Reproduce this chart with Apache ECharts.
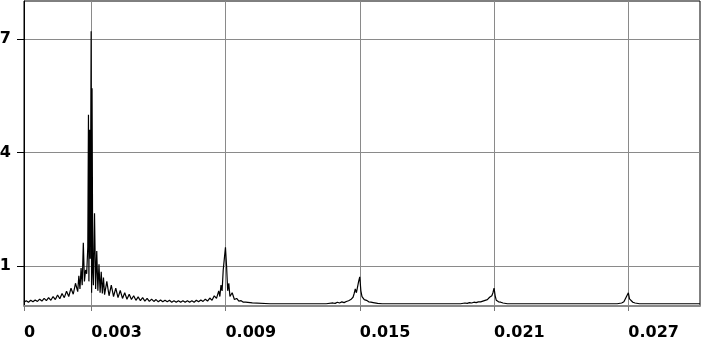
<!DOCTYPE html>
<html>
<head>
<meta charset="utf-8">
<script src="https://cdn.jsdelivr.net/npm/echarts@6/dist/echarts.min.js"></script>
<style>
html,body{margin:0;padding:0;background:#fff;}
#chart{width:702px;height:343px;}
</style>
</head>
<body>
<div id="chart"></div>
<script>
// X tick values and labels
var xTicks = [0, 0.003, 0.009, 0.015, 0.021, 0.027];
var xTickLabels = ['0', '0.003', '0.009', '0.015', '0.021', '0.027'];
// Y tick values and labels
var yTicks = [1, 4, 7];
var yTickLabels = ['1', '4', '7'];

// Spectrum: frequency positions
var freq = [
  0,0.0001,0.0002,0.0003,0.0004,0.0005,0.0006,0.0007,0.0008,0.0009,0.001,0.0011,0.0012,0.0013,0.0014,0.0015,0.0016,0.0017,0.0018,0.0019,0.002,0.0021,0.0022,0.0023,0.0024,
  0.00245,0.0025,0.00255,0.0026,0.00265,0.0027,0.00275,0.0028,0.00285,0.00288,0.0029,0.00293,0.00296,0.003,0.00302,0.00304,0.00307,0.0031,0.00315,0.0032,0.00325,0.0033,0.00335,0.0034,0.00345,0.0035,0.00355,0.0036,
  0.0037,0.0038,0.0039,0.004,0.0041,0.0042,0.0043,0.0044,0.0045,0.0046,
  0.0047,0.0048,0.0049,0.005,0.0051,0.0052,0.0053,0.0054,0.0055,0.0056,
  0.0057,0.0058,0.0059,0.006,0.0061,0.0062,0.0063,0.0064,0.0065,0.0066,
  0.0067,0.0068,0.0069,0.007,0.0071,0.0072,0.0073,0.0074,0.0075,0.0076,
  0.0077,0.0078,0.0079,0.008,0.0081,0.0082,0.0083,0.0084,0.0085,0.0086,
  0.0087,0.00875,0.0088,0.00885,0.0089,0.00895,0.009,0.00905,0.0091,0.00915,0.0092,0.0093,0.0094,0.0095,0.0096,0.0097,0.0098,0.0099,0.0102,0.011,0.012,0.013,0.0135,
  0.0138,0.0139,0.014,0.0141,0.0142,0.0143,0.0144,0.0145,0.0146,0.0147,0.01475,0.0148,0.01485,0.0149,0.01495,0.015,0.01505,0.0151,0.01515,0.0152,0.0153,0.0154,0.0155,0.0156,0.0158,0.016,0.018,0.0195,
  0.0197,0.0198,0.0199,0.02,0.0201,0.0202,0.0203,0.0204,0.0205,0.0206,0.0207,0.0208,0.0209,0.02095,0.021,0.02105,0.0211,0.02115,0.0212,0.0213,0.0214,0.0216,0.024,0.0265,
  0.0267,0.0268,0.02685,0.0269,0.02695,0.027,0.02705,0.0271,0.0272,0.0273,0.0275,0.0302
];
// Spectrum: amplitudes
var amp = [
  0.05,0.09,0.05,0.1,0.06,0.11,0.07,0.13,0.08,0.15,0.09,0.17,0.1,0.2,0.12,0.24,0.14,0.28,0.17,0.34,0.2,0.42,0.26,0.55,0.33,
  0.75,0.4,0.95,0.5,1.62,0.6,0.9,0.8,1.5,5.0,0.6,4.6,1.2,7.2,0.3,5.7,0.9,0.5,2.4,0.4,1.4,0.35,1.05,0.3,0.85,0.28,0.7,0.25,
  0.6,0.22,0.5,0.2,0.42,0.17,0.36,0.15,0.3,0.13,
  0.26,0.12,0.22,0.1,0.19,0.09,0.17,0.08,0.15,0.07,
  0.13,0.07,0.12,0.06,0.11,0.06,0.1,0.06,0.1,0.05,
  0.09,0.05,0.09,0.05,0.09,0.05,0.09,0.05,0.09,0.05,
  0.1,0.06,0.11,0.07,0.13,0.08,0.16,0.1,0.22,0.15,
  0.35,0.2,0.5,0.35,0.9,1.2,1.5,1.0,0.35,0.55,0.2,0.3,0.12,0.15,0.08,0.09,0.05,0.05,0.03,0.01,0.01,0.01,0.01,
  0.03,0.02,0.05,0.03,0.06,0.04,0.07,0.09,0.12,0.18,0.28,0.4,0.3,0.45,0.6,0.72,0.35,0.2,0.25,0.12,0.1,0.06,0.05,0.04,0.02,0.01,0.01,0.01,
  0.03,0.02,0.04,0.03,0.05,0.04,0.06,0.06,0.08,0.1,0.12,0.18,0.22,0.3,0.42,0.22,0.1,0.13,0.06,0.05,0.03,0.01,0.01,0.01,
  0.03,0.06,0.1,0.18,0.14,0.3,0.14,0.09,0.05,0.03,0.01,0.01
];

var chart = echarts.init(document.getElementById('chart'), null, {renderer: 'canvas'});
var data = freq.map(function (f, i) { return [f, amp[i]]; });
var labelFont = {fontFamily: 'DejaVu Sans', fontWeight: 'bold', fontSize: 16, color: '#000'};

chart.setOption({
  animation: false,
  backgroundColor: '#fff',
  grid: {left: 24, right: 2, top: 1, bottom: 37, containLabel: false, outerBoundsMode: 'none',
         show: true, borderColor: '#000', borderWidth: 1, backgroundColor: 'transparent'},
  xAxis: {
    type: 'value', min: 0, max: 0.0302,
    axisLine: {show: true, onZero: false, lineStyle: {color: '#8a8a8a', width: 2}},
    axisTick: {show: true, length: 5, customValues: xTicks, lineStyle: {color: '#777'}},
    splitLine: {show: true, lineStyle: {color: '#8a8a8a', width: 1}},
    axisLabel: Object.assign({
      customValues: xTicks, align: 'left', margin: 19,
      formatter: function (v) { var i = xTicks.indexOf(v); return i >= 0 ? xTickLabels[i] : ''; }
    }, labelFont)
  },
  yAxis: {
    type: 'value', min: -0.05, max: 8,
    axisLine: {show: true, onZero: false, lineStyle: {color: '#000', width: 1}},
    axisTick: {show: true, length: 7, customValues: yTicks, lineStyle: {color: '#000'}},
    splitLine: {show: true, lineStyle: {color: '#8a8a8a', width: 1}},
    axisLabel: Object.assign({
      customValues: yTicks, margin: 13,
      formatter: function (v) { var i = yTicks.indexOf(v); return i >= 0 ? yTickLabels[i] : ''; }
    }, labelFont)
  },
  series: [{
    type: 'line', data: data, showSymbol: false, symbol: 'none',
    lineStyle: {color: '#000', width: 1.2}, z: 5
  }]
});
</script>
</body>
</html>
